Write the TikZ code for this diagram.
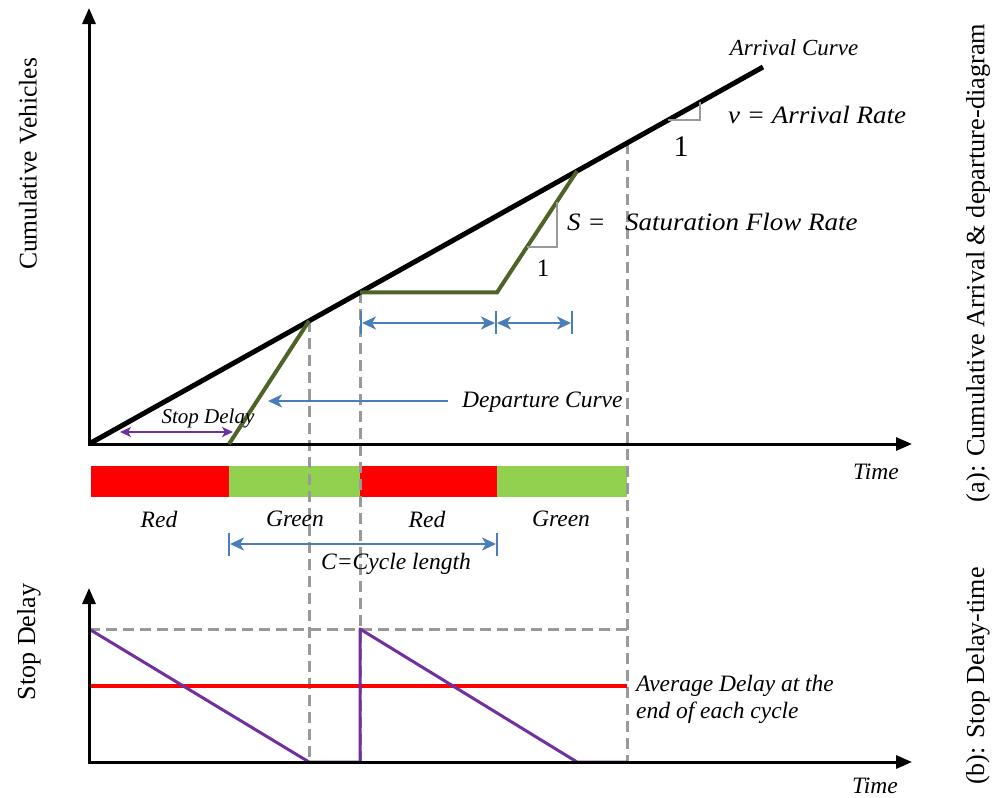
\documentclass[tikz,border=0pt]{standalone}
\usepackage{fontspec}
\setmainfont{Liberation Serif}
\newfontfamily\mathlike[FakeStretch=1.08,ItalicFont={Liberation Serif Italic}]{Liberation Serif}
\usetikzlibrary{arrows.meta}
\definecolor{depgreen}{HTML}{4F6228}
\definecolor{sigred}{HTML}{FF0000}
\definecolor{siggreen}{HTML}{92D050}
\definecolor{dimblue}{HTML}{4A7EBB}
\definecolor{delpurple}{HTML}{7030A0}
\definecolor{guide}{HTML}{999999}
\tikzset{
  axis/.style={line width=3pt,-{Triangle[length=16pt,width=13pt]}},
  arrivalline/.style={line width=5pt},
  depline/.style={depgreen,line width=4pt,line join=miter},
  guideline/.style={guide,line width=3pt,dash pattern=on 11pt off 6pt},
  slopetri/.style={guide,line width=2pt},
  dimarrow/.style={dimblue,line width=2.6pt,{Stealth[length=14pt,width=13pt,inset=4pt]}-{Stealth[length=14pt,width=13pt,inset=4pt]}},
  dimtick/.style={dimblue,line width=2.6pt},
  labelit/.style={font=\fontsize{23.5}{27}\selectfont\itshape,inner sep=0pt},
  labelup/.style={font=\fontsize{24}{28}\selectfont,inner sep=0pt},
  mathtext/.style={font=\fontsize{25}{28}\selectfont\mathlike\itshape,inner sep=0pt},
}
\begin{document}
\begin{tikzpicture}[x=1pt,y=-1pt]
\useasboundingbox (0,0) rectangle (994,798);
% coordinates
\coordinate (O) at (89,444);
\coordinate (Ytop) at (89,8);
\coordinate (Xend) at (912,444);
\coordinate (Aend) at (763,67);
\coordinate (D0) at (229,444);
\coordinate (D1) at (309,320.9);
\coordinate (D2) at (360,292.4);
\coordinate (D3) at (497,292.4);
\coordinate (D4) at (577,171.1);
\coordinate (P3) at (627,143.1);
\coordinate (O2) at (89,762);
\coordinate (Y2top) at (89,588);
\coordinate (X2end) at (912,762);
\coordinate (G1) at (309,762);
\coordinate (G2) at (360,762);
\coordinate (G3) at (627,762);
% signal bars
\fill[sigred] (91,466) rectangle (229,497);
\fill[siggreen] (229,466) rectangle (360,497);
\fill[sigred] (360,466) rectangle (497,497);
\fill[siggreen] (497,466) rectangle (627,497);
% guide lines (dashed)
\draw[guideline] (D1) -- (G1);
\draw[guideline] (D2) -- (G2);
\draw[guideline] (P3) -- (G3);
\draw[guideline] (89,629) -- (627,629);
% top axes
\draw[axis] (89,446) -- (Ytop);
\draw[axis] (88,444) -- (Xend);
% arrival curve
\draw[arrivalline] (O) -- (Aend);
% departure curve
\draw[depline] (D0) -- (D1);
\draw[depline] (D2) -- (D3) -- (D4);
% slope triangles
\draw[slopetri] (668,120) -- (700,120) -- (700,102);
\draw[slopetri] (527,247) -- (557,247) -- (557,201.5);
% dimension arrows
\draw[dimtick] (361,311) -- (361,334);
\draw[dimtick] (496,311) -- (496,334);
\draw[dimtick] (572,311) -- (572,334);
\draw[dimarrow] (362,323) -- (495,323);
\draw[dimarrow] (497,323) -- (571,323);
\draw[dimblue,line width=2.4pt,-{Stealth[length=14pt,width=13pt,inset=4pt]}] (448,401) -- (268,401);
\draw[dimtick] (229,533) -- (229,556);
\draw[dimtick] (497,533) -- (497,556);
\draw[dimarrow] (230,544) -- (496,544);
% stop delay arrow
\draw[delpurple,line width=2.6pt,{Stealth[length=11pt,width=10pt,inset=3pt]}-{Stealth[length=11pt,width=10pt,inset=3pt]}] (120,432) -- (233,432);
% bottom chart
\draw[sigred,line width=4.5pt] (89,686) -- (627,686);
\draw[delpurple,line width=3pt,line join=round] (89,629) -- (309,762) -- (360,762) -- (360,629) -- (577,762) -- (627,762);
\draw[axis] (89,764) -- (Y2top);
\draw[axis] (88,762) -- (X2end);
% labels
\node[labelit,font=\fontsize{23}{26}\selectfont\itshape] (arrcurve) at (794,48) {Arrival Curve};
\node[mathtext,anchor=west] (vrate) at (728,115) {v = Arrival Rate};
\node[font=\fontsize{30}{32}\selectfont,inner sep=0pt] (one1) at (681,147) {1};
\node[mathtext,anchor=west] (seq) at (567,222) {S =};
\node[mathtext,anchor=west] (satrate) at (625,222) {Saturation Flow Rate};
\node[font=\fontsize{25}{28}\selectfont,inner sep=0pt] (one2) at (543,268) {1};
\node[labelit,font=\fontsize{21}{24}\selectfont\itshape] (stopdel) at (208,418) {Stop Delay};
\node[labelit,anchor=west] (depcurve) at (462,402) {Departure Curve};
\node[labelit] (time1) at (876,472) {Time};
\node[labelit] (red1) at (159,519) {Red};
\node[labelit] (green1) at (295,519) {Green};
\node[labelit] (red2) at (427,519) {Red};
\node[labelit] (green2) at (561,519) {Green};
\node[labelit] (cyc) at (396,564) {C=Cycle length};
\node[labelit,anchor=west,align=left] (avgdel) at (636,699) {Average Delay at the\\end of each cycle};
\node[labelit] (time2) at (875,786) {Time};
\node[labelup,font=\fontsize{25.5}{28}\selectfont,rotate=90] (ylab1) at (28,164) {Cumulative Vehicles};
\node[labelup,font=\fontsize{26}{28}\selectfont,rotate=90] (ylab2) at (29,642) {Stop Delay};
\node[labelup,font=\fontsize{26.3}{28}\selectfont,rotate=90] (capa) at (978,263) {(a): Cumulative Arrival \& departure-diagram};
\node[labelup,font=\fontsize{26}{28}\selectfont,rotate=90] (capb) at (978,676) {(b): Stop Delay-time};
\end{tikzpicture}
\end{document}
